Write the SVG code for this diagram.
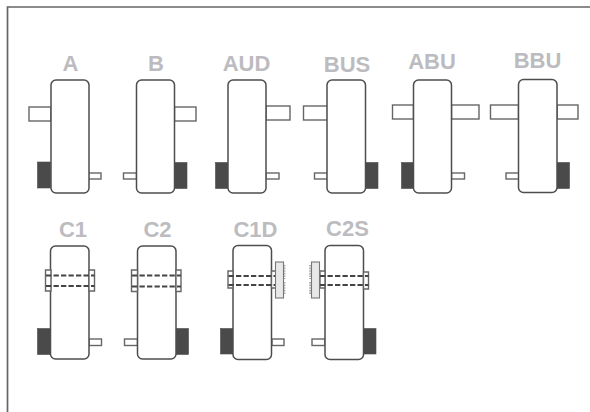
<svg xmlns="http://www.w3.org/2000/svg" width="590" height="412" viewBox="0 0 590 412">
<style>
.f{fill:none;stroke:#666;stroke-width:1.7}
.b{fill:#fff;stroke:#4d4d4d;stroke-width:1.5}
.r{fill:#fff;stroke:#666;stroke-width:1.4}
.k{fill:#4a4a4a;stroke:#4a4a4a;stroke-width:.6}
.d{fill:none;stroke:#444;stroke-width:1.8;stroke-dasharray:5.3 2.2}
.g{fill:#e8e8e8;stroke:#777;stroke-width:1.1}
.t{fill:none;stroke:#aaa;stroke-width:2;stroke-dasharray:1.6 1}
text{font-family:"Liberation Sans",Arial,sans-serif;font-weight:700;font-size:22px;fill:#bcbcc0;text-anchor:middle}
</style>
<path class="f" d="M7.500 412V7H590"/>
<g id="A"><text x="70.500" y="71">A</text><rect class="r" x="29" y="107" width="22" height="14"/><rect class="r" x="88.500" y="173" width="12.500" height="6"/><rect class="k" x="37.500" y="162" width="13" height="26"/><rect class="b" x="51" y="80" width="38" height="113" rx="5"/></g>
<g id="B"><text x="156" y="71">B</text><rect class="r" x="174.500" y="107" width="21.500" height="14"/><rect class="r" x="123.500" y="173" width="13" height="6"/><rect class="k" x="174.500" y="162.500" width="12.500" height="26"/><rect class="b" x="136.500" y="80" width="38" height="113" rx="5"/></g>
<g id="AUD"><text x="246.500" y="71">AUD</text><rect class="r" x="266" y="106" width="24" height="14"/><rect class="r" x="266" y="173" width="13" height="6"/><rect class="k" x="215.500" y="162.500" width="12.500" height="26"/><rect class="b" x="228" y="80" width="38" height="113" rx="5"/></g>
<g id="BUS"><text x="347" y="71.500">BUS</text><rect class="r" x="303.500" y="106" width="24" height="14"/><rect class="r" x="314.500" y="173" width="13" height="6"/><rect class="k" x="365.500" y="162.500" width="12.500" height="26"/><rect class="b" x="327" y="80" width="38.500" height="113" rx="5"/></g>
<g id="ABU"><text x="432" y="69">ABU</text><rect class="r" x="392.500" y="105" width="21" height="14"/><rect class="r" x="451.500" y="105" width="27.500" height="14"/><rect class="r" x="451.500" y="173" width="13" height="6"/><rect class="k" x="401.500" y="162.500" width="12" height="26"/><rect class="b" x="413.500" y="80" width="38" height="113" rx="5"/></g>
<g id="BBU"><text x="537.500" y="68">BBU</text><rect class="r" x="490.500" y="105" width="28" height="14"/><rect class="r" x="557" y="105" width="21" height="14"/><rect class="r" x="506" y="173" width="13" height="6"/><rect class="k" x="557" y="162.500" width="12.500" height="26"/><rect class="b" x="518.500" y="79.500" width="38.500" height="113" rx="5"/></g>
<g id="C1"><text x="73" y="237">C1</text><rect class="r" x="89" y="339" width="12.500" height="6.500"/><rect class="k" x="37.500" y="328.500" width="13" height="26"/><rect class="b" x="50.500" y="246" width="38.500" height="113" rx="5"/><path class="r" d="M45.500 270h5.500v21h-5.500zM89 270h5.500v21H89z"/><path class="d" d="M46 275.500h48.500M46 286h48.500"/></g>
<g id="C2"><text x="157.500" y="237">C2</text><rect class="r" x="124.500" y="339" width="13" height="6.500"/><rect class="k" x="176" y="328.500" width="12.500" height="26"/><rect class="b" x="137.500" y="246" width="38.500" height="113" rx="5"/><path class="r" d="M131.500 270h6v21.500h-6zM176 270h5v21.500h-5z"/><path class="d" d="M132 275.500h49M132 286.500h49"/></g>
<g id="C1D"><text x="255.500" y="237">C1D</text><rect class="r" x="272" y="339" width="12" height="6.500"/><rect class="k" x="220.500" y="328.500" width="12.500" height="25.500"/><rect class="b" x="233" y="245.500" width="38.500" height="114" rx="5"/><path class="r" d="M228 271h5v17h-5zM271.500 271h4.500v17h-4.500z"/><path class="d" d="M228.500 276h47M228.500 285h47"/><path class="t" d="M284.400 265v14M284.400 282v13"/><rect class="g" x="275.500" y="262" width="8" height="36"/></g>
<g id="C2S"><text x="347.500" y="236">C2S</text><rect class="r" x="312" y="339" width="13" height="6.500"/><rect class="k" x="363.500" y="328.500" width="12.500" height="25.500"/><rect class="b" x="325" y="245.500" width="38.500" height="114" rx="5"/><path class="r" d="M320 271h5v17h-5zM363.500 272h5v17h-5z"/><path class="d" d="M320 276h48.500M320 285h48.500"/><path class="t" d="M310.200 265v14M310.200 282v13"/><rect class="g" x="311.500" y="262" width="8" height="36"/></g>
</svg>
